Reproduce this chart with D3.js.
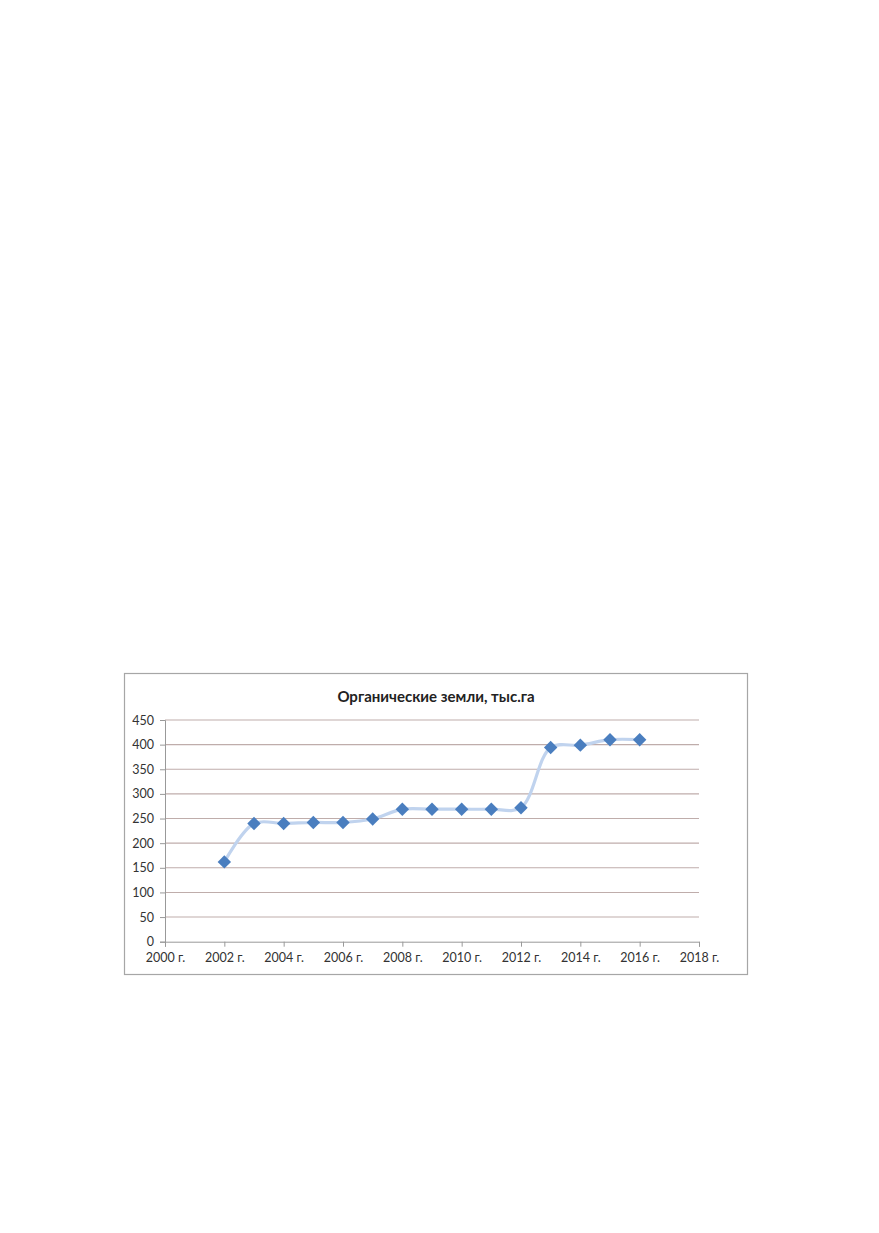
<!DOCTYPE html>
<html>
<head>
<meta charset="utf-8">
<script src="https://cdn.jsdelivr.net/npm/d3@7"></script>
<style>
  body { margin: 0; background: #fff; }
  svg { display: block; }
</style>
</head>
<body>
<div id="chart"></div>
<script>
const title = "Органические земли, тыс.га";
const years = [2002, 2003, 2004, 2005, 2006, 2007, 2008, 2009, 2010, 2011, 2012, 2013, 2014, 2015, 2016];
const values = [162, 240, 240, 242, 242, 249, 269, 269, 269, 269, 272, 394, 399, 410, 410];
const xTicks = [2000, 2002, 2004, 2006, 2008, 2010, 2012, 2014, 2016, 2018];
const yTicks = [0, 50, 100, 150, 200, 250, 300, 350, 400, 450];

const W = 879, H = 1233;
const box = { x: 124, y: 673, w: 623, h: 301 };
const plot = { left: 165, right: 699, top: 720, bottom: 941.7 };

const svg = d3.select("#chart").append("svg")
    .attr("width", W)
    .attr("height", H);

// chart frame
svg.append("rect")
    .attr("x", box.x + 0.5).attr("y", box.y + 0.5)
    .attr("width", box.w).attr("height", box.h)
    .attr("fill", "#fff")
    .attr("stroke", "#a6a6a6")
    .attr("stroke-width", 1.2);

svg.append("text")
    .attr("x", 436).attr("y", 702)
    .attr("text-anchor", "middle")
    .attr("font-family", "Lato, 'Open Sans', sans-serif")
    .attr("font-weight", "bold")
    .attr("font-size", 15)
    .attr("fill", "#222")
    .text(title);

const x = d3.scaleLinear().domain([2000, 2018]).range([plot.left, plot.right]);
const y = d3.scaleLinear().domain([0, 450]).range([plot.bottom, plot.top]);

// horizontal gridlines
svg.append("g")
    .selectAll("line")
    .data(yTicks.filter(d => d > 0))
    .join("line")
    .attr("x1", plot.left).attr("x2", plot.right)
    .attr("y1", d => y(d)).attr("y2", d => y(d))
    .attr("stroke", "#bfadab")
    .attr("stroke-width", 1.1);

const axisFont = g => g.selectAll("text")
    .attr("font-family", "Lato, 'Open Sans', sans-serif")
    .attr("font-size", 12.5)
    .attr("fill", "#333");

const yAxis = svg.append("g")
    .attr("transform", `translate(${plot.left},0)`)
    .call(d3.axisLeft(y).tickValues(yTicks).tickSize(5).tickPadding(6).tickFormat(d3.format("d")));
yAxis.select(".domain").attr("stroke", "#999");
yAxis.selectAll(".tick line").attr("stroke", "#999");
yAxis.call(axisFont);

const xAxis = svg.append("g")
    .attr("transform", `translate(0,${plot.bottom})`)
    .call(d3.axisBottom(x).tickValues(xTicks).tickSize(5).tickPadding(6).tickFormat(d => d + " г."));
xAxis.select(".domain").attr("stroke", "#999");
xAxis.selectAll(".tick line").attr("stroke", "#999");
xAxis.call(axisFont);

const pts = years.map((yr, i) => [yr, values[i]]);

svg.append("path")
    .datum(pts)
    .attr("fill", "none")
    .attr("stroke", "#c0d3ee")
    .attr("stroke-width", 3.2)
    .attr("stroke-linejoin", "round")
    .attr("d", d3.line().x(d => x(d[0])).y(d => y(d[1])).curve(d3.curveCatmullRom.alpha(0.5)));

svg.append("g")
    .selectAll("path")
    .data(pts)
    .join("path")
    .attr("transform", d => `translate(${x(d[0])},${y(d[1])})`)
    .attr("d", d3.symbol().type(d3.symbolDiamond2).size(115))
    .attr("fill", "#4a7ebf");
</script>
</body>
</html>
